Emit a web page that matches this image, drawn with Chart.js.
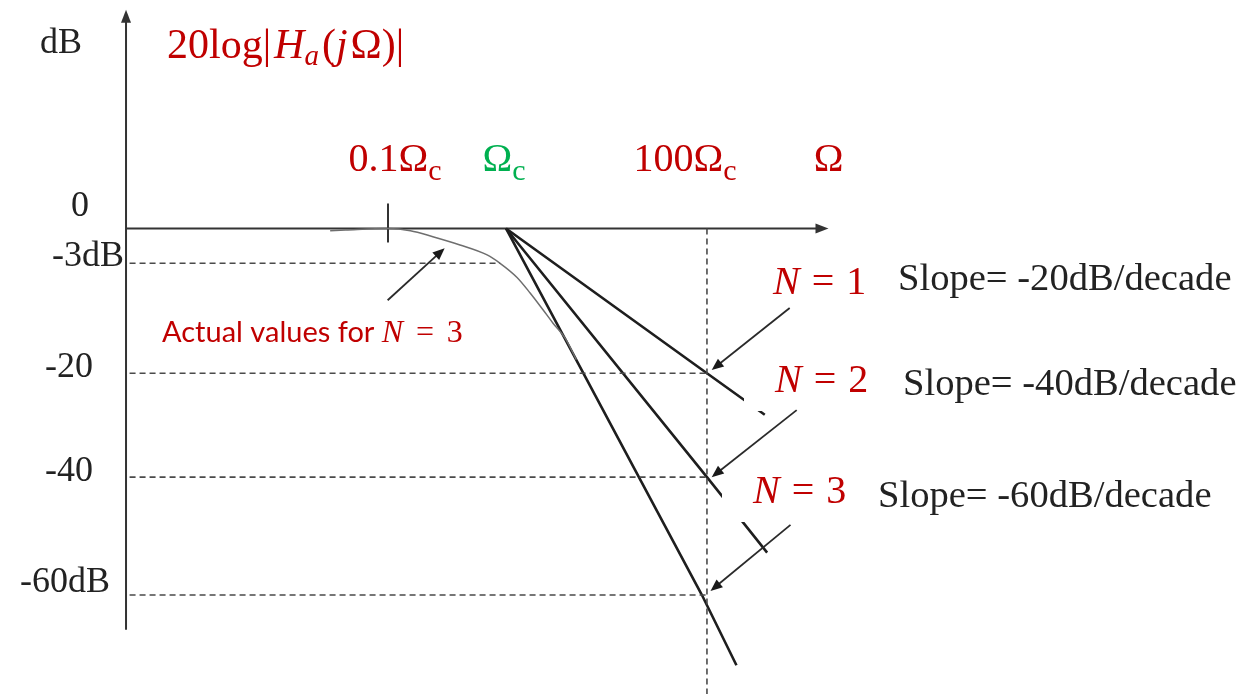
<!DOCTYPE html>
<html>
<head>
<meta charset="utf-8">
<title>Butterworth magnitude response</title>
<script src="https://cdn.jsdelivr.net/npm/chart.js@4.4.1/dist/chart.umd.min.js"></script>
<style>
  html, body { margin: 0; padding: 0; background: #fff; }
  #wrap { width: 1250px; height: 694px; }
  canvas { display: block; }
</style>
</head>
<body>
<div id="wrap"><canvas id="bode" width="1250" height="694"></canvas></div>
<script>
// ===============================
// DATA
// ===============================
// Ω in decades relative to Ωc, levels in dB
const omegaN1 = [0, 2, 2.49];
const dbN1 = [0, -20, -28];
const omegaN2 = [0, 2, 2.51];
const dbN2 = [0, -40, -52.8];
const omegaN3 = [0, 1.95, 2.25];
const dbN3 = [0, -60, -71.5];

// exact response for N = 3
const omegaActual = [-1.49, -1.36, -1.0, -0.81, -0.62, -0.39, -0.16, -0.05, 0.11, 0.24, 0.37, 0.47, 0.59, 0.7];
const dbActual = [-0.19, -0.13, 0, -0.19, -0.71, -1.42, -2.28, -3.0, -5.19, -7.59, -10.22, -12.3, -14.6, -17.9];

// levels marked on the dB axis
const dbTicks = [0, -3, -20, -40, -60];
const dbTickLabels = ["0", "-3dB", "-20", "-40", "-60dB"];

// frequencies marked on the Ω axis: 0.1Ωc, Ωc, 100Ωc
const omegaTicks = [-1, 0, 2];
const omegaTickPrefix = ["0.1", "", "100"];

// dashed helper lines: level and where each one stops
const guideLevels = [-3, -20, -40, -60];
const guideEnds = [-0.05, 2, 2, 2];
const markerOmega = 2;

// axis extents
const omegaAxis = [-3.22, 3.03];
const dbAxis = [-65.7, 35.8];

// ===============================
// STYLE
// ===============================
const RED = "#c00000";
const GREEN = "#00b050";
const INK = "#222222";
const AXIS = "#333333";
const LINE = "#1e1e1e";
const GUIDE = "#4a4a4a";
const SERIF = '"Liberation Serif", "Times New Roman", serif';
const SANS = 'Lato, "Open Sans", sans-serif';
const font = (size, italic) => (italic ? "italic " : "") + size + "px " + SERIF;

// ===============================
// SCALE: linear scale with a piecewise stretch (hand-drawn spacing)
// ===============================
class SketchScale extends Chart.LinearScale {
  warp(v) {
    const k = this.options.knots;
    if (!k || k.length < 2) return v;
    if (v <= k[0][0]) return k[0][1] + v - k[0][0];
    const last = k[k.length - 1];
    if (v >= last[0]) return last[1] + v - last[0];
    for (let i = 1; i < k.length; i++) {
      if (v <= k[i][0]) {
        const t = (v - k[i - 1][0]) / (k[i][0] - k[i - 1][0]);
        return k[i - 1][1] + t * (k[i][1] - k[i - 1][1]);
      }
    }
    return v;
  }
  unwarp(w) {
    const k = this.options.knots;
    if (!k || k.length < 2) return w;
    if (w <= k[0][1]) return k[0][0] + w - k[0][1];
    const last = k[k.length - 1];
    if (w >= last[1]) return last[0] + w - last[1];
    for (let i = 1; i < k.length; i++) {
      if (w <= k[i][1]) {
        const t = (w - k[i - 1][1]) / (k[i][1] - k[i - 1][1]);
        return k[i - 1][0] + t * (k[i][0] - k[i - 1][0]);
      }
    }
    return w;
  }
  getPixelForValue(value) {
    if (value === null || isNaN(value)) return NaN;
    const lo = this.warp(this.min), hi = this.warp(this.max);
    return this.getPixelForDecimal((this.warp(value) - lo) / (hi - lo));
  }
  getValueForPixel(pixel) {
    const lo = this.warp(this.min), hi = this.warp(this.max);
    return this.unwarp(lo + this.getDecimalForPixel(pixel) * (hi - lo));
  }
}
SketchScale.id = "sketch";
SketchScale.defaults = {};
Chart.register(SketchScale);

// ===============================
// LAYOUT OF TEXT AND CALLOUTS
// ===============================
function omegaRuns(prefix) {
  return [
    { t: prefix + "Ω", font: font(40) },
    { t: "c", font: font(30), dy: 9 }
  ];
}

function nRuns(n, size, space) {
  return [
    { t: "N", font: font(size, true) },
    { gap: size * space },
    { t: "=", font: font(size) },
    { gap: size * space },
    { t: String(n), font: font(size) }
  ];
}

const titleRuns = [
  { t: "20log|", font: font(42) },
  { gap: 3 },
  { t: "H", font: font(42, true) },
  { t: "a", font: font(29, true), dy: 7 },
  { gap: 3 },
  { t: "(", font: font(42) },
  { t: "j", font: font(42, true) },
  { gap: 3 },
  { t: "Ω", font: font(42) },
  { t: ")|", font: font(42) }
];

// free text, left edge and baseline in px
const notes = [
  { x: 40, y: 53, color: INK, runs: [{ t: "dB", font: font(36) }] },
  { x: 167, y: 58, color: RED, runs: titleRuns },
  { x: 162, y: 342, color: RED, runs: [{ t: "Actual values for ", font: "29px " + SANS }, ...nRuns(3, 32, 0.4)] },
  { x: 773, y: 294, color: RED, runs: nRuns(1, 40, 0.3), box: true },
  { x: 775, y: 392, color: RED, runs: nRuns(2, 40, 0.3), box: true },
  { x: 753, y: 503, color: RED, runs: nRuns(3, 40, 0.3), box: true },
  { x: 898, y: 290, color: INK, runs: [{ t: "Slope= -20dB/decade", font: font(38.6) }] },
  { x: 903, y: 395, color: INK, runs: [{ t: "Slope= -40dB/decade", font: font(38.6) }] },
  { x: 878, y: 507, color: INK, runs: [{ t: "Slope= -60dB/decade", font: font(38.6) }] }
];

// dB tick labels: right edge from the axis, baseline shift from the level
const dbLabelPlace = [[-37, -12.5], [-2, 3], [-33, 3.5], [-33, 3.5], [-16, -3]];
// Ω tick labels: centre shift from the tick, baseline above the axis
const omegaLabelShift = [7, -2, -22];
const omegaLabelRise = 57;

// arrows: tip in data units, tail as px offset from the tip
const callouts = [
  { x: -0.52, y: -1.7, dx: -57, dy: 52 },
  { x: 2.04, y: -19.5, dx: 78, dy: -62 },
  { x: 2.04, y: -40, dx: 85, dy: -67 },
  { x: 2.03, y: -59.3, dx: 80, dy: -66 }
];

// ===============================
// DRAW HELPERS
// ===============================
function runsWidth(ctx, runs) {
  let w = 0;
  runs.forEach(r => {
    if (r.gap) { w += r.gap; return; }
    ctx.font = r.font;
    w += ctx.measureText(r.t).width;
  });
  return w;
}

function drawRuns(ctx, x, y, runs, color) {
  ctx.fillStyle = color;
  ctx.textAlign = "left";
  ctx.textBaseline = "alphabetic";
  let cx = x;
  runs.forEach(r => {
    if (r.gap) { cx += r.gap; return; }
    ctx.font = r.font;
    ctx.fillText(r.t, cx, y + (r.dy || 0));
    cx += ctx.measureText(r.t).width;
  });
}

function arrow(ctx, x1, y1, x2, y2, len, half) {
  const a = Math.atan2(y2 - y1, x2 - x1);
  const c = Math.cos(a), s = Math.sin(a);
  ctx.beginPath();
  ctx.moveTo(x1, y1);
  ctx.lineTo(x2 - len * 0.7 * c, y2 - len * 0.7 * s);
  ctx.stroke();
  ctx.beginPath();
  ctx.moveTo(x2, y2);
  ctx.lineTo(x2 - len * c + half * s, y2 - len * s - half * c);
  ctx.lineTo(x2 - len * c - half * s, y2 - len * s + half * c);
  ctx.closePath();
  ctx.fill();
}

const decor = {
  id: "decor",
  beforeDatasetsDraw(chart) {
    const { ctx, scales: { x, y } } = chart;
    const xa = x.getPixelForValue(omegaAxis[0]);
    const xb = x.getPixelForValue(omegaAxis[1]);
    const yTop = y.getPixelForValue(dbAxis[1]);
    const yBot = y.getPixelForValue(dbAxis[0]);
    const y0 = y.getPixelForValue(0);

    ctx.save();
    ctx.strokeStyle = AXIS;
    ctx.fillStyle = AXIS;
    ctx.lineWidth = 2;
    arrow(ctx, xa, yBot, xa, yTop, 13, 5);
    arrow(ctx, xa, y0, xb, y0, 13, 5);

    // small tick at 0.1Ωc
    const xt = x.getPixelForValue(omegaTicks[0]);
    ctx.beginPath();
    ctx.moveTo(xt, y0 - 25);
    ctx.lineTo(xt, y0 + 14);
    ctx.stroke();
    ctx.restore();
  },
  afterDatasetsDraw(chart) {
    const { ctx, scales: { x, y } } = chart;
    const xa = x.getPixelForValue(omegaAxis[0]);
    const y0 = y.getPixelForValue(0);
    ctx.save();

    // white label boxes sit on top of the lines
    notes.filter(n => n.box).forEach(n => {
      ctx.fillStyle = "#ffffff";
      ctx.fillRect(n.x - 31, n.y - 41, 140, 60);
    });

    ctx.strokeStyle = "#2a2a2a";
    ctx.fillStyle = "#1a1a1a";
    ctx.lineWidth = 1.8;
    callouts.forEach(c => {
      const tx = x.getPixelForValue(c.x);
      const ty = y.getPixelForValue(c.y);
      arrow(ctx, tx + c.dx, ty + c.dy, tx, ty, 12, 5);
    });

    // dB tick labels
    dbTicks.forEach((v, i) => {
      const [dx, dy] = dbLabelPlace[i];
      ctx.font = font(36);
      ctx.fillStyle = INK;
      ctx.textAlign = "right";
      ctx.textBaseline = "alphabetic";
      ctx.fillText(dbTickLabels[i], xa + dx, y.getPixelForValue(v) + dy);
    });

    // Ω tick labels
    omegaTicks.forEach((v, i) => {
      const runs = omegaRuns(omegaTickPrefix[i]);
      const w = runsWidth(ctx, runs);
      const cx = x.getPixelForValue(v) + omegaLabelShift[i];
      drawRuns(ctx, cx - w / 2, y0 - omegaLabelRise, runs, i === 1 ? GREEN : RED);
    });
    const omegaEnd = [{ t: "Ω", font: font(40) }];
    const xe = x.getPixelForValue(omegaAxis[1]);
    drawRuns(ctx, xe - runsWidth(ctx, omegaEnd) / 2, y0 - omegaLabelRise, omegaEnd, RED);

    notes.forEach(n => drawRuns(ctx, n.x, n.y, n.runs, n.color));
    ctx.restore();
  }
};

// ===============================
// CHART
// ===============================
const pts = (xs, ys) => xs.map((v, i) => ({ x: v, y: ys[i] }));
const dashed = { borderColor: GUIDE, borderWidth: 1.6, borderDash: [6, 4] };

const datasets = [
  ...guideLevels.map((lv, i) => ({
    label: "level " + lv,
    data: [{ x: omegaAxis[0] + 0.03, y: lv }, { x: guideEnds[i], y: lv }],
    ...dashed
  })),
  { label: "100Ωc", data: [{ x: markerOmega, y: 0 }, { x: markerOmega, y: -80 }], ...dashed },
  {
    label: "Actual N = 3",
    data: pts(omegaActual, dbActual),
    borderColor: "#6e6e6e",
    borderWidth: 1.5,
    cubicInterpolationMode: "monotone"
  },
  { label: "N = 1", data: pts(omegaN1, dbN1), borderColor: LINE, borderWidth: 2.6 },
  { label: "N = 2", data: pts(omegaN2, dbN2), borderColor: LINE, borderWidth: 2.6 },
  { label: "N = 3", data: pts(omegaN3, dbN3), borderColor: LINE, borderWidth: 2.6 }
];

new Chart(document.getElementById("bode"), {
  type: "line",
  data: { datasets },
  options: {
    responsive: false,
    animation: false,
    events: [],
    layout: { padding: 0, autoPadding: false },
    elements: { point: { radius: 0 }, line: { tension: 0 } },
    plugins: { legend: { display: false }, tooltip: { enabled: false } },
    scales: {
      x: {
        type: "sketch",
        min: -4.288,
        max: 6.602,
        knots: [[-1, -1], [0, 0], [2, 1.703]],
        display: false
      },
      y: {
        type: "sketch",
        min: -76.2,
        max: 37.4,
        knots: [[-60, -60], [-40, -40.7], [-20, -23.7], [-3, -5.7], [0, 0]],
        display: false
      }
    }
  },
  plugins: [decor]
});
</script>
</body>
</html>
